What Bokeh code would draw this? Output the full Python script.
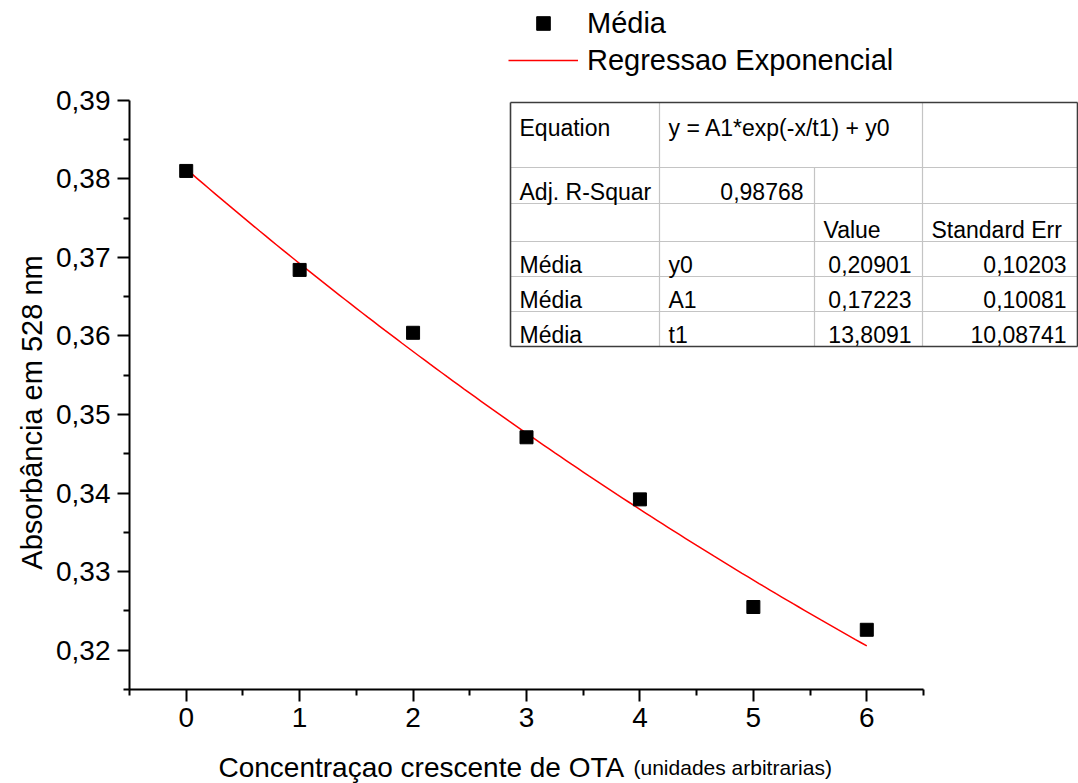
import numpy as np
from bokeh.plotting import figure
from bokeh.layouts import column, row
from bokeh.models import (Range1d, FixedTicker, CustomJSTickFormatter, Legend,
                          LegendItem, ColumnDataSource)
from bokeh.core.properties import value
from bokeh.embed import file_html
from bokeh.resources import INLINE

# --- measured data -------------------------------------------------------
concentracao = [0, 1, 2, 3, 4, 5, 6]
absorbancia = [0.3810, 0.3684, 0.3604, 0.3471, 0.3392, 0.3255, 0.3226]

# exponential decay fit  y = A1*exp(-x/t1) + y0
fit_y0, fit_A1, fit_t1 = 0.20901, 0.17223, 13.8091
err_y0, err_A1, err_t1 = 0.10203, 0.10081, 10.08741
adj_r2 = 0.98768

x_ticks = [0, 1, 2, 3, 4, 5, 6]
x_minor = [-0.5, 0.5, 1.5, 2.5, 3.5, 4.5, 5.5, 6.5]
y_ticks = [0.32, 0.33, 0.34, 0.35, 0.36, 0.37, 0.38, 0.39]
y_minor = [0.315, 0.325, 0.335, 0.345, 0.355, 0.365, 0.375, 0.385]

y_title = "Absorbância em 528 nm"
x_title = "Concentraçao crescente de OTA"
x_title_unit = "(unidades arbitrarias)"

FONT = "Liberation Sans"
W, H = 1078, 783
LEFT_W = 50          # strip holding the vertical axis title
BOTTOM_H = 38        # strip holding the horizontal axis title
MAIN_W, MAIN_H = W - LEFT_W, H - BOTTOM_H

# frame geometry (page pixels) and scale of the axes
FRAME_LEFT, FRAME_BOTTOM = 129, 689
X_START, PX_PER_X = -0.5, 113.43
Y_START, PX_PER_Y = 0.315, 7857.0
x_end = X_START + (W - FRAME_LEFT) / PX_PER_X
y_end = Y_START + FRAME_BOTTOM / PX_PER_Y


def cx(px):
    return X_START + (px - FRAME_LEFT) / PX_PER_X


def cy(py):
    return Y_START + (FRAME_BOTTOM - py) / PX_PER_Y


def fmt(v):
    return f"{v:.7g}".replace(".", ",")


def blank(f):
    f.outline_line_color = None
    f.grid.visible = False
    f.background_fill_color = "white"
    f.border_fill_color = "white"
    return f


p = blank(figure(width=MAIN_W, height=MAIN_H, output_backend="svg",
                 toolbar_location=None,
                 x_range=Range1d(X_START, x_end), y_range=Range1d(Y_START, y_end),
                 min_border_left=FRAME_LEFT - LEFT_W, min_border_right=0,
                 min_border_top=0, min_border_bottom=MAIN_H - FRAME_BOTTOM))

# axes
for ax in (p.xaxis[0], p.yaxis[0]):
    ax.axis_line_width = 2
    ax.axis_line_color = "black"
    ax.major_tick_line_width = 2
    ax.minor_tick_line_width = 2
    ax.major_tick_line_color = "black"
    ax.minor_tick_line_color = "black"
    ax.major_tick_in = 0
    ax.major_tick_out = 12
    ax.minor_tick_in = 0
    ax.minor_tick_out = 6
    ax.major_label_text_font = FONT
    ax.major_label_text_font_size = "28px"
    ax.major_label_text_color = "black"

p.xaxis.bounds = (-0.5, 6.5)
p.xaxis.ticker = FixedTicker(ticks=x_ticks, minor_ticks=x_minor)
p.xaxis.formatter = CustomJSTickFormatter(code="return tick.toFixed(0);")
p.xaxis.major_label_standoff = 6

p.yaxis.bounds = (0.315, 0.39)
p.yaxis.ticker = FixedTicker(ticks=y_ticks, minor_ticks=y_minor)
p.yaxis.formatter = CustomJSTickFormatter(
    code="return tick.toFixed(2).replace('.', ',');")
p.yaxis.major_label_standoff = 7

# fitted curve from the reported parameters
xf = np.linspace(0, 6, 121)
yf = fit_A1 * np.exp(-xf / fit_t1) + fit_y0
fit_line = p.line(xf, yf, line_color="red", line_width=1.5)

pts = p.scatter(concentracao, absorbancia, marker="square", size=13,
                fill_color="black", line_color="black")

legend = Legend(items=[LegendItem(label="Média", renderers=[pts]),
                       LegendItem(label="Regressao Exponencial", renderers=[fit_line])],
                location=(379, 612), padding=0, margin=0, spacing=3,
                glyph_width=70, glyph_height=34, label_height=34,
                label_standoff=9, border_line_color=None,
                background_fill_alpha=0, label_text_font=FONT,
                label_text_font_size="29px", label_text_color="black")
p.add_layout(legend)

# --- fit results table ----------------------------------------------------
cols = [510, 659, 814, 922, 1077]
rows = [102, 167, 203, 241, 276, 311, 346]

inner = dict(x0=[], y0=[], x1=[], y1=[])
for r in rows[1:-1]:
    inner["x0"].append(cx(cols[0])); inner["x1"].append(cx(cols[-1]))
    inner["y0"].append(cy(r)); inner["y1"].append(cy(r))
for c, top in ((cols[1], rows[0]), (cols[2], rows[1]), (cols[3], rows[0])):
    inner["x0"].append(cx(c)); inner["x1"].append(cx(c))
    inner["y0"].append(cy(top)); inner["y1"].append(cy(rows[-1]))
p.segment(source=ColumnDataSource(inner), x0="x0", y0="y0", x1="x1", y1="y1",
          line_color="#c4c4c4", line_width=1.2)

outer_x0 = [cols[0], cols[0], cols[0], cols[-1]]
outer_x1 = [cols[-1], cols[-1], cols[0], cols[-1]]
outer_y0 = [rows[0], rows[-1], rows[0], rows[0]]
outer_y1 = [rows[0], rows[-1], rows[-1], rows[-1]]
p.segment(x0=[cx(v) for v in outer_x0], x1=[cx(v) for v in outer_x1],
          y0=[cy(v) for v in outer_y0], y1=[cy(v) for v in outer_y1],
          line_color="#3c3c3c", line_width=1.6)

cells = []  # (text, column, row, align)
cells.append(("Equation", 0, 0, "left"))
cells.append(("y = A1*exp(-x/t1) + y0", 1, 0, "left"))
cells.append(("Adj. R-Squar", 0, 1, "left"))
cells.append((fmt(adj_r2), 1, 1, "right"))
cells.append(("Value", 2, 2, "left"))
cells.append(("Standard Err", 3, 2, "left"))
for i, (name, val, err) in enumerate([("y0", fit_y0, err_y0),
                                      ("A1", fit_A1, err_A1),
                                      ("t1", fit_t1, err_t1)]):
    r = 3 + i
    cells.append(("Média", 0, r, "left"))
    cells.append((name, 1, r, "left"))
    cells.append((fmt(val), 2, r, "right"))
    cells.append((fmt(err), 3, r, "right"))

tx, ty, tt, ta = [], [], [], []
for text, c, r, align in cells:
    px = cols[c] + 9 if align == "left" else cols[c + 1] - 11
    py = rows[0] + 25 if r == 0 else rows[r + 1] - 12
    tx.append(cx(px)); ty.append(cy(py)); tt.append(text); ta.append(align)
p.text(source=ColumnDataSource(dict(x=tx, y=ty, text=tt, align=ta)),
       x="x", y="y", text="text", text_align="align",
       text_baseline="alphabetic", text_font=value(FONT),
       text_font_size="23px", text_color="black")

# --- vertical axis title: strip sharing the main vertical scale -------------
left = blank(figure(width=LEFT_W, height=MAIN_H, output_backend="svg",
                    toolbar_location=None, x_axis_location=None,
                    y_axis_location=None, x_range=Range1d(0, LEFT_W),
                    y_range=p.y_range, min_border_left=0, min_border_right=0,
                    min_border_top=0, min_border_bottom=MAIN_H - FRAME_BOTTOM))
left.text(x=[31], y=[cy(412)], text=[y_title], angle=np.pi / 2,
          text_align="center", text_baseline="middle",
          text_font=value(FONT), text_font_size="29px", text_color="black")

# --- horizontal axis title -------------------------------------------------
bottom = blank(figure(width=W, height=BOTTOM_H, output_backend="svg",
                      toolbar_location=None, x_axis_location=None,
                      y_axis_location=None, x_range=Range1d(0, W),
                      y_range=Range1d(0, BOTTOM_H), min_border=0))
base_y = 16
bottom.text(x=[218], y=[base_y], text=[x_title], text_align="left",
            text_baseline="alphabetic", text_font=value(FONT),
            text_font_size="28px", text_color="black")
bottom.text(x=[633], y=[base_y], text=[x_title_unit], text_align="left",
            text_baseline="alphabetic", text_font=value(FONT),
            text_font_size="21px", text_color="black")

layout = column(row(left, p, spacing=0), bottom, spacing=0)
open("out.html", "w").write(file_html(layout, INLINE))
